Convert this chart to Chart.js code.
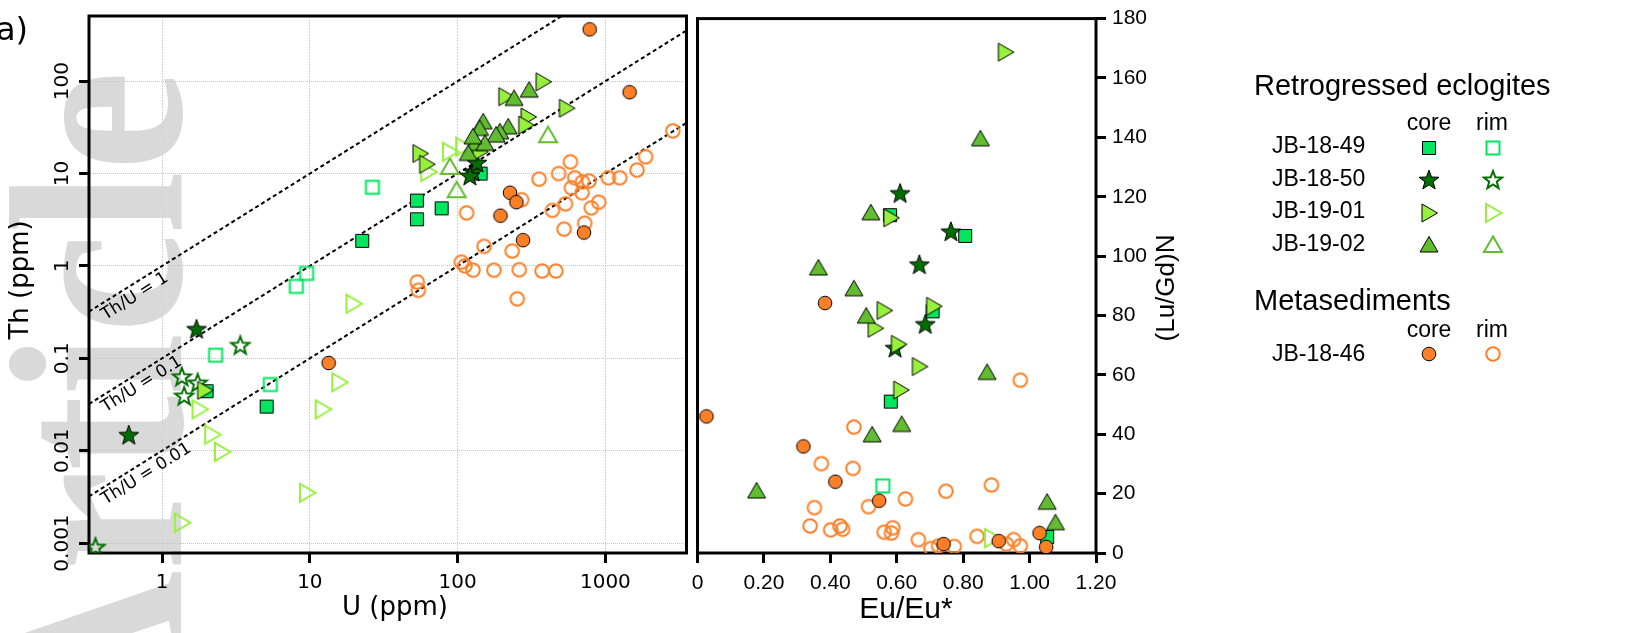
<!DOCTYPE html>
<html><head><meta charset="utf-8">
<script src="https://cdn.jsdelivr.net/npm/chart.js@4.4.1/dist/chart.umd.min.js"></script>
<style>
html,body{margin:0;padding:0;background:#fff;width:1630px;height:633px;overflow:hidden}
canvas{position:absolute;left:0;top:0}
</style></head><body>
<canvas id="c1" width="1630" height="633"></canvas>
<canvas id="c2" width="1630" height="633"></canvas>
<script>
// ---------- axes / ticks ----------
const uTicks = [1, 10, 100, 1000];
const uTickLabels = ['1', '10', '100', '1000'];
const thTicks = [0.001, 0.01, 0.1, 1, 10, 100];
const thTickLabels = ['0.001', '0.01', '0.1', '1', '10', '100'];
const uRange = [0.32, 3540];
const thRange = [0.00078, 508];
const euTicks = [0, 0.2, 0.4, 0.6, 0.8, 1.0, 1.2];
const euTickLabels = ['0', '0.20', '0.40', '0.60', '0.80', '1.00', '1.20'];
const lugdTicks = [0, 20, 40, 60, 80, 100, 120, 140, 160, 180];
const lugdTickLabels = ['0', '20', '40', '60', '80', '100', '120', '140', '160', '180'];
const euRange = [0, 1.2];
const lugdRange = [0, 180];
const thuRatios = [1, 0.1, 0.01];
const thuLabels = ['Th/U = 1', 'Th/U = 0.1', 'Th/U = 0.01'];

// ---------- samples ----------
const samples = ['JB-18-49', 'JB-18-50', 'JB-19-01', 'JB-19-02', 'JB-18-46'];
const sampleColors = ['#00e65f', '#006e00', '#96f03c', '#62bc2f', '#ff7f27'];
const sampleShapes = ['square', 'star', 'triRight', 'triUp', 'circle'];

// ---------- left plot: [U ppm, Th ppm] ----------
const thU_JB1849_core = [[53,5.1],[53,3.2],[78,4.2],[22.6,1.87],[143,10.0],[5.1,0.030],[2.0,0.044]];
const thU_JB1849_rim = [[26.5,7.1],[9.5,0.83],[8.1,0.60],[2.3,0.108],[5.4,0.052]];
const thU_JB1850_core = [[1.71,0.206],[0.595,0.0147],[127,10.4],[135,13],[121,9.4]];
const thU_JB1850_rim = [[3.38,0.138],[1.36,0.063],[1.74,0.054],[1.41,0.039],[0.354,0.0009]];
const thU_JB1901_core = [[1.94,0.045],[55.6,16.5],[61.7,12.6],[379,98.5],[212,68],[300,41],[289,33.5],[545,51],[141,17.2]];
const thU_JB1901_rim = [[63.3,10.4],[88.7,17.2],[109,19.5],[19.7,0.39],[15.8,0.055],[12.2,0.028],[1.79,0.028],[2.18,0.0149],[2.54,0.0097],[9.55,0.0035],[1.36,0.00166]];
const thU_JB1902_core = [[241,65],[305,80],[220,32],[193,28.3],[182,26.1],[149,36.3],[141,30.8],[131,21.2],[153,21.2],[118,16.5],[127,25]];
const thU_JB1902_rim = [[409,26],[98.5,6.6],[88.7,11.8]];
const thU_JB1846_core = [[783,364],[1459,76],[226,6.2],[250,4.9],[195,3.5],[277,1.9],[716,2.3],[13.4,0.089]];
const thU_JB1846_rim = [[2858,29],[1871,15.2],[1636,10.9],[1250,9.0],[1047,9.0],[775,8.3],[699,8.1],[621,9.0],[589,7.0],[695,6.2],[580,13.4],[483,10.0],[356,8.7],[901,4.9],[803,4.25],[537,4.7],[438,4.0],[271,5.2],[725,2.9],[525,2.5],[151,1.63],[234,1.45],[106,1.1],[112,1.0],[127,0.90],[176,0.90],[261,0.91],[373,0.88],[462,0.88],[253,0.44],[115,3.75],[53.3,0.67],[54.2,0.545]];

// ---------- right plot: [Eu/Eu*, (Lu/Gd)N] ----------
const euLu_JB1849_core = [[0.580,113.8],[0.806,106.8],[0.708,81.4],[0.582,51.0],[1.053,5.4]];
const euLu_JB1849_rim = [[0.558,22.6]];
const euLu_JB1850_core = [[0.610,121.1],[0.763,108.2],[0.668,97.1],[0.686,77.0],[0.595,69.0]];
const euLu_JB1850_rim = [];
const euLu_JB1901_core = [[0.927,168.7],[0.582,112.9],[0.562,81.7],[0.711,83.1],[0.535,75.7],[0.605,70.3],[0.668,62.8],[0.612,54.9]];
const euLu_JB1901_rim = [[0.887,5.0]];
const euLu_JB1902_core = [[0.852,139.5],[0.522,114.6],[0.364,96.0],[0.471,89.0],[0.508,79.8],[0.872,60.8],[0.615,43.3],[0.526,39.8],[0.178,20.9],[1.053,17.1],[1.078,10.2]];
const euLu_JB1902_rim = [];
const euLu_JB1846_core = [[0.384,84.2],[0.027,46.0],[0.319,35.9],[0.415,24.0],[0.547,17.6],[0.741,3.0],[0.907,4.0],[1.03,6.7],[1.05,2.0]];
const euLu_JB1846_rim = [[0.972,58.2],[0.471,42.4],[0.373,30.1],[0.468,28.5],[0.885,22.9],[0.748,20.8],[0.626,18.2],[0.352,15.3],[0.515,15.6],[0.339,9.1],[0.401,7.8],[0.429,9.1],[0.437,8.0],[0.562,7.0],[0.588,8.5],[0.584,6.7],[0.665,4.5],[0.703,1.5],[0.726,2.4],[0.773,2.2],[0.842,5.6],[0.930,3.0],[0.952,4.5],[0.972,2.4]];

// ---------- markers ----------
function makeMarker(shape, color, core) {
  const S = 24, m = 12;
  const c = document.createElement('canvas');
  c.width = S; c.height = S;
  const g = c.getContext('2d');
  g.beginPath();
  if (shape === 'square') g.rect(m - 6.5, m - 6.5, 13, 13);
  else if (shape === 'circle') g.arc(m, m, 6.8, 0, Math.PI * 2);
  else if (shape === 'triUp') { g.moveTo(m, m - 8.5); g.lineTo(m + 9, m + 7); g.lineTo(m - 9, m + 7); g.closePath(); }
  else if (shape === 'triRight') { g.moveTo(m + 8.5, m); g.lineTo(m - 7, m + 9); g.lineTo(m - 7, m - 9); g.closePath(); }
  else if (shape === 'star') {
    const R = core ? 10.5 : 9.5, r = core ? 4.3 : 4.0;
    for (let k = 0; k < 10; k++) {
      const a = -Math.PI / 2 + k * Math.PI / 5;
      const rr = k % 2 ? r : R;
      const px = m + rr * Math.cos(a), py = m + 0.5 + rr * Math.sin(a);
      k ? g.lineTo(px, py) : g.moveTo(px, py);
    }
    g.closePath();
  }
  if (core) {
    g.fillStyle = color; g.fill();
    g.lineWidth = 1; g.strokeStyle = '#000'; g.stroke();
  } else {
    g.lineWidth = 2; g.strokeStyle = color; g.lineJoin = 'miter'; g.stroke();
  }
  return c;
}
const coreMarkers = samples.map((s, i) => makeMarker(sampleShapes[i], sampleColors[i], true));
const rimMarkers = samples.map((s, i) => makeMarker(sampleShapes[i], sampleColors[i], false));

const pts = arr => arr.map(([x, y]) => ({ x, y }));
function pointSet(label, arr, si, core) {
  return {
    label: label, data: pts(arr),
    pointStyle: core ? coreMarkers[si] : rimMarkers[si],
    pointRadius: 7, pointHoverRadius: 7, showLine: false
  };
}

// drawing order bottom -> top
const leftSeries = [
  pointSet('JB-18-46 rim', thU_JB1846_rim, 4, false),
  pointSet('JB-19-02 rim', thU_JB1902_rim, 3, false),
  pointSet('JB-19-01 rim', thU_JB1901_rim, 2, false),
  pointSet('JB-18-49 rim', thU_JB1849_rim, 0, false),
  pointSet('JB-18-50 rim', thU_JB1850_rim, 1, false),
  pointSet('JB-18-49 core', thU_JB1849_core, 0, true),
  pointSet('JB-18-50 core', thU_JB1850_core, 1, true),
  pointSet('JB-19-01 core', thU_JB1901_core, 2, true),
  pointSet('JB-19-02 core', thU_JB1902_core, 3, true),
  pointSet('JB-18-46 core', thU_JB1846_core, 4, true)
];
const thuLines = thuRatios.map((r, i) => ({
  label: thuLabels[i],
  data: [{ x: uRange[0], y: uRange[0] * r }, { x: uRange[1], y: uRange[1] * r }],
  showLine: true, pointRadius: 0, borderColor: '#000', borderWidth: 2,
  borderDash: [4, 3], tension: 0, fill: false
}));
const leftDatasets = [...thuLines, ...leftSeries];
leftDatasets.forEach((d, i) => d.order = leftDatasets.length - i);

const rightSeries = [
  pointSet('JB-18-46 rim', euLu_JB1846_rim, 4, false),
  pointSet('JB-19-02 rim', euLu_JB1902_rim, 3, false),
  pointSet('JB-19-01 rim', euLu_JB1901_rim, 2, false),
  pointSet('JB-18-49 rim', euLu_JB1849_rim, 0, false),
  pointSet('JB-18-50 rim', euLu_JB1850_rim, 1, false),
  pointSet('JB-18-49 core', euLu_JB1849_core, 0, true),
  pointSet('JB-18-50 core', euLu_JB1850_core, 1, true),
  pointSet('JB-19-01 core', euLu_JB1901_core, 2, true),
  pointSet('JB-19-02 core', euLu_JB1902_core, 3, true),
  pointSet('JB-18-46 core', euLu_JB1846_core, 4, true)
];
rightSeries.forEach((d, i) => d.order = rightSeries.length - i);

const lookup = (ticks, labels) => v => {
  const i = ticks.findIndex(t => Math.abs(t - v) < 1e-9 * Math.max(1, Math.abs(t)));
  return i >= 0 ? labels[i] : '';
};

const frame = {
  id: 'frame',
  beforeDatasetsDraw(chart) {
    const a = chart.chartArea, ctx = chart.ctx;
    ctx.save(); ctx.strokeStyle = '#000'; ctx.lineWidth = 3;
    ctx.strokeRect(a.left, a.top, a.right - a.left, a.bottom - a.top);
    ctx.restore();
  }
};

const leftDecor = {
  id: 'leftDecor',
  beforeDraw(chart) {
    const ctx = chart.ctx;
    ctx.save();
    ctx.fillStyle = '#d9d9d9';
    ctx.font = 'bold 225px "Liberation Serif", "DejaVu Serif", serif';
    ctx.translate(181, 71);
    ctx.rotate(-Math.PI / 2);
    ctx.scale(1, 1.1);
    ctx.textAlign = 'right'; ctx.textBaseline = 'alphabetic';
    ctx.fillText('Article', 0, 0);
    ctx.restore();
  },
  afterDraw(chart) {
    const ctx = chart.ctx, xs = chart.scales.x, ys = chart.scales.y, a = chart.chartArea;
    ctx.save();
    ctx.fillStyle = '#000';
    // Th/U labels
    ctx.font = '17px "DejaVu Sans"';
    thuRatios.forEach((r, i) => {
      const x0 = a.left + 8;
      const u0 = xs.getValueForPixel(x0);
      const y0 = ys.getPixelForValue(u0 * r);
      const x1 = xs.getPixelForValue(u0 * 10), y1 = ys.getPixelForValue(u0 * 10 * r);
      const ang = Math.atan2(y1 - y0, x1 - x0);
      ctx.save(); ctx.translate(x0, y0); ctx.rotate(ang);
      ctx.textAlign = 'left'; ctx.textBaseline = 'top';
      ctx.fillText(thuLabels[i], 0, 3);
      ctx.restore();
    });
    // rotated y tick labels
    ctx.font = '20px "DejaVu Sans"';
    thTicks.forEach((v, i) => {
      const py = ys.getPixelForValue(v);
      ctx.save(); ctx.translate(63, py); ctx.rotate(-Math.PI / 2);
      ctx.textAlign = 'center'; ctx.textBaseline = 'middle';
      ctx.fillText(thTickLabels[i], 0, 0);
      ctx.restore();
    });
    // axis titles
    ctx.font = '26px "DejaVu Sans"';
    ctx.save(); ctx.translate(21, 280); ctx.rotate(-Math.PI / 2);
    ctx.textAlign = 'center'; ctx.textBaseline = 'middle';
    ctx.fillText('Th (ppm)', 0, 0); ctx.restore();
    ctx.textAlign = 'center'; ctx.textBaseline = 'alphabetic';
    ctx.fillText('U (ppm)', 395, 615);
    ctx.font = '32px "DejaVu Sans"';
    ctx.textAlign = 'left';
    ctx.fillText('a)', -4, 40);
    ctx.restore();
  }
};

const rightDecor = {
  id: 'rightDecor',
  afterDraw(chart) {
    const ctx = chart.ctx;
    ctx.save();
    ctx.fillStyle = '#000';
    ctx.font = '30px "Liberation Sans"';
    ctx.textAlign = 'center'; ctx.textBaseline = 'alphabetic';
    ctx.fillText('Eu/Eu*', 906, 618);
    ctx.font = '26px "Liberation Sans"';
    ctx.save(); ctx.translate(1167, 288); ctx.rotate(-Math.PI / 2);
    ctx.textAlign = 'center'; ctx.textBaseline = 'middle';
    ctx.fillText('(Lu/Gd)N', 0, 0); ctx.restore();

    // legend
    ctx.textAlign = 'left'; ctx.textBaseline = 'alphabetic';
    ctx.font = '29px "Liberation Sans"';
    ctx.fillText('Retrogressed eclogites', 1254, 95);
    ctx.fillText('Metasediments', 1254, 310);
    ctx.font = '23px "Liberation Sans"';
    ctx.textAlign = 'center';
    ctx.fillText('core', 1429, 130); ctx.fillText('rim', 1492, 130);
    ctx.fillText('core', 1429, 337); ctx.fillText('rim', 1492, 337);
    const rowBase = [153, 186, 218, 251, 361];
    const rowMark = [148, 180, 213, 245, 354];
    ctx.textAlign = 'left';
    samples.forEach((s, i) => {
      ctx.fillText(s, 1272, rowBase[i]);
      const cm = coreMarkers[i], rm = rimMarkers[i];
      ctx.drawImage(cm, 1429 - cm.width / 2, rowMark[i] - cm.height / 2);
      ctx.drawImage(rm, 1493 - rm.width / 2, rowMark[i] - rm.height / 2);
    });
    ctx.restore();
  }
};

Chart.defaults.font.family = '"Liberation Sans"';
Chart.defaults.color = '#000';

new Chart(document.getElementById('c1'), {
  type: 'scatter',
  data: { datasets: leftDatasets },
  options: {
    responsive: false, animation: false, events: [], devicePixelRatio: 1,
    layout: { padding: { left: 0, top: 16, right: 1630 - 686.5, bottom: 0 } },
    plugins: { legend: { display: false }, tooltip: { enabled: false } },
    scales: {
      x: {
        type: 'logarithmic', position: 'bottom', min: uRange[0], max: uRange[1], bounds: 'data',
        afterBuildTicks: s => { s.ticks = uTicks.map(v => ({ value: v })); },
        afterFit: s => { s.height = 80; },
        ticks: { callback: lookup(uTicks, uTickLabels), font: { family: '"DejaVu Sans"', size: 20 }, color: '#000', padding: 8, maxRotation: 0, autoSkip: false },
        grid: { color: '#d2d2d2', lineWidth: 1, tickColor: '#000', tickWidth: 3, tickLength: 10, drawTicks: true },
        border: { display: false, dash: [2, 1] }
      },
      y: {
        type: 'logarithmic', position: 'left', min: thRange[0], max: thRange[1], bounds: 'data',
        afterBuildTicks: s => { s.ticks = thTicks.map(v => ({ value: v })); },
        afterFit: s => { s.width = 89; },
        ticks: { display: false },
        grid: { color: '#c4c4c4', lineWidth: 1, tickColor: '#000', tickWidth: 3, tickLength: 10, drawTicks: true },
        border: { display: false, dash: [1, 1] }
      }
    }
  },
  plugins: [leftDecor, frame]
});

new Chart(document.getElementById('c2'), {
  type: 'scatter',
  data: { datasets: rightSeries },
  options: {
    responsive: false, animation: false, events: [], devicePixelRatio: 1,
    layout: { padding: { left: 697.5, top: 16, right: 0, bottom: 0 } },
    plugins: { legend: { display: false }, tooltip: { enabled: false } },
    scales: {
      x: {
        type: 'linear', position: 'bottom', min: euRange[0], max: euRange[1],
        afterBuildTicks: s => { s.ticks = euTicks.map(v => ({ value: v })); },
        afterFit: s => { s.height = 80; },
        ticks: { callback: lookup(euTicks, euTickLabels), font: { size: 21 }, color: '#000', padding: 8, maxRotation: 0, autoSkip: false },
        grid: { drawOnChartArea: false, tickColor: '#000', tickWidth: 3, tickLength: 10 },
        border: { display: false }
      },
      y: {
        type: 'linear', position: 'right', min: lugdRange[0], max: lugdRange[1],
        afterBuildTicks: s => { s.ticks = lugdTicks.map(v => ({ value: v })); },
        afterFit: s => { s.width = 1630 - 1096; },
        ticks: { callback: lookup(lugdTicks, lugdTickLabels), font: { size: 21 }, color: '#000', padding: 6, autoSkip: false },
        grid: { drawOnChartArea: false, tickColor: '#000', tickWidth: 3, tickLength: 10 },
        border: { display: false }
      }
    }
  },
  plugins: [rightDecor, frame]
});
</script></body></html>
